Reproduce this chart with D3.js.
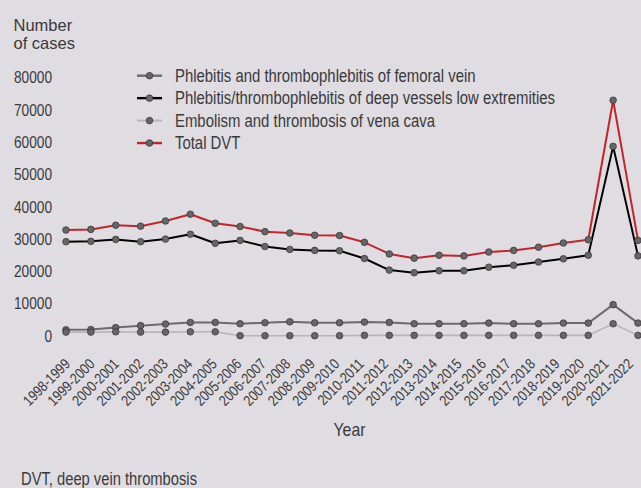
<!DOCTYPE html>
<html>
<head>
<meta charset="utf-8">
<script src="https://cdn.jsdelivr.net/npm/d3@7"></script>
<style>
  html, body { margin: 0; padding: 0; background: #dfdce2; }
  svg { display: block; }
  text { font-family: "Liberation Sans", Arial, sans-serif; fill: #3a3a3a; }
</style>
</head>
<body>
<script>
const years = ["1998-1999","1999-2000","2000-2001","2001-2002","2002-2003","2003-2004","2004-2005","2005-2006","2006-2007","2007-2008","2008-2009","2009-2010","2010-2011","2011-2012","2012-2013","2013-2014","2014-2015","2015-2016","2016-2017","2017-2018","2018-2019","2019-2020","2020-2021","2021-2022"];
const femoral = [1900,2000,2600,3200,3700,4200,4200,3800,4100,4400,4100,4100,4300,4200,3800,3800,3800,4000,3800,3800,4000,4000,9700,4000];
const deepVessels = [29200,29300,29900,29200,30000,31500,28700,29600,27700,26800,26500,26400,24000,20400,19600,20200,20200,21300,21900,22900,23900,25000,58700,24800];
const venaCava = [1200,1200,1300,1200,1200,1300,1300,100,100,100,100,100,200,200,200,200,200,200,200,200,200,200,3800,200];
const totalDVT = [32800,33000,34300,34000,35600,37700,34900,33900,32300,31900,31200,31100,29000,25400,24100,25000,24800,26000,26500,27500,28800,29800,73000,29600];
const yTicks = [0,10000,20000,30000,40000,50000,60000,70000,80000];
const seriesNames = ["Phlebitis and thrombophlebitis of femoral vein","Phlebitis/thrombophlebitis of deep vessels low extremities","Embolism and thrombosis of vena cava","Total DVT"];

const seriesList = [
  {name: seriesNames[0], values: femoral, color: "#6b6b6b", width: 2},
  {name: seriesNames[1], values: deepVessels, color: "#000000", width: 2},
  {name: seriesNames[2], values: venaCava, color: "#b6b6b6", width: 1.6},
  {name: seriesNames[3], values: totalDVT, color: "#c4252b", width: 2}
];

const W = 641, H = 488;
const svg = d3.select("body").append("svg").attr("width", W).attr("height", H);
svg.append("rect").attr("width", W).attr("height", H).attr("fill", "#dfdce2");

// condense a text selection so that a reference string has a given width
function condense(sel, ratio) {
  sel.each(function() {
    const len = this.getComputedTextLength();
    this.setAttribute("textLength", (len * ratio).toFixed(2));
    this.setAttribute("lengthAdjust", "spacingAndGlyphs");
  });
}
function ratioFor(sel, target) {
  return target / sel.node().getComputedTextLength();
}

const x = d3.scalePoint().domain(years).range([66, 638]).padding(0);
const xLab = d3.scalePoint().domain(years).range([71, 634]).padding(0);
const y = d3.scaleLinear().domain([0, 80000]).range([336, 77.6]);

// Y axis (labels only)
const yAxis = d3.axisLeft(y).tickValues(yTicks).tickSize(0).tickPadding(0).tickFormat(d3.format("d"));
const gy = svg.append("g").attr("transform", "translate(52,0)").call(yAxis);
gy.select(".domain").remove();
const yLabels = gy.selectAll("text").attr("font-size", 16.5).attr("fill", "#3a3a3a")
  .style("font-family", '"Liberation Sans", Arial, sans-serif');
condense(yLabels, ratioFor(yLabels.filter(d => d === 80000), 38));

// Y title
svg.append("text").attr("x", 13.5).attr("y", 30.7).attr("font-size", 16.5).text("Number");
svg.append("text").attr("x", 13.5).attr("y", 49.3).attr("font-size", 16.5).text("of cases");

// X axis (rotated labels)
const xAxis = d3.axisBottom(xLab).tickSize(0).tickPadding(0);
const gx = svg.append("g").call(xAxis);
gx.select(".domain").remove();
gx.selectAll(".tick").attr("transform", d => `translate(${xLab(d)},365)`);
const xLabels = gx.selectAll("text")
  .attr("font-size", 15).attr("fill", "#3a3a3a")
  .style("font-family", '"Liberation Sans", Arial, sans-serif')
  .attr("text-anchor", "end").attr("dy", 0).attr("y", 0)
  .attr("transform", "rotate(-45)");
condense(xLabels, ratioFor(xLabels.filter((d, i) => i === 0), 59));

const yearT = svg.append("text").attr("x", 349.5).attr("y", 435.7).attr("text-anchor", "middle").attr("font-size", 18.5).text("Year");
condense(yearT, ratioFor(yearT, 32));
const noteT = svg.append("text").attr("x", 21).attr("y", 485.3).attr("font-size", 17.5).text("DVT, deep vein thrombosis");
condense(noteT, ratioFor(noteT, 176));

// Lines
const line = d3.line().x((d, i) => x(years[i])).y(d => y(d));
seriesList.forEach(s => {
  svg.append("path").datum(s.values).attr("d", line)
    .attr("fill", "none").attr("stroke", s.color).attr("stroke-width", s.width).attr("stroke-linejoin", "round");
});
seriesList.forEach(s => {
  svg.append("g").selectAll("circle").data(s.values).join("circle")
    .attr("cx", (d, i) => x(years[i])).attr("cy", d => y(d)).attr("r", 3.3)
    .attr("fill", "#666").attr("stroke", "#3a3a3a").attr("stroke-width", 0.8);
});

// Legend
const legend = svg.append("g").attr("transform", "translate(137,75.7)");
const legTexts = [];
seriesList.forEach((s, i) => {
  const g = legend.append("g").attr("transform", `translate(0,${i * 22.45})`);
  g.append("line").attr("x1", 0).attr("x2", 25).attr("y1", 0).attr("y2", 0)
    .attr("stroke", s.color).attr("stroke-width", s.width + 0.4);
  g.append("circle").attr("cx", 12.5).attr("cy", 0).attr("r", 3.3)
    .attr("fill", "#666").attr("stroke", "#3a3a3a").attr("stroke-width", 0.8);
  legTexts.push(g.append("text").attr("x", 38).attr("y", 6).attr("font-size", 17.5).text(s.name).node());
});
const legSel = d3.selectAll(legTexts);
condense(legSel, ratioFor(d3.select(legTexts[1]), 380));
</script>
</body>
</html>
